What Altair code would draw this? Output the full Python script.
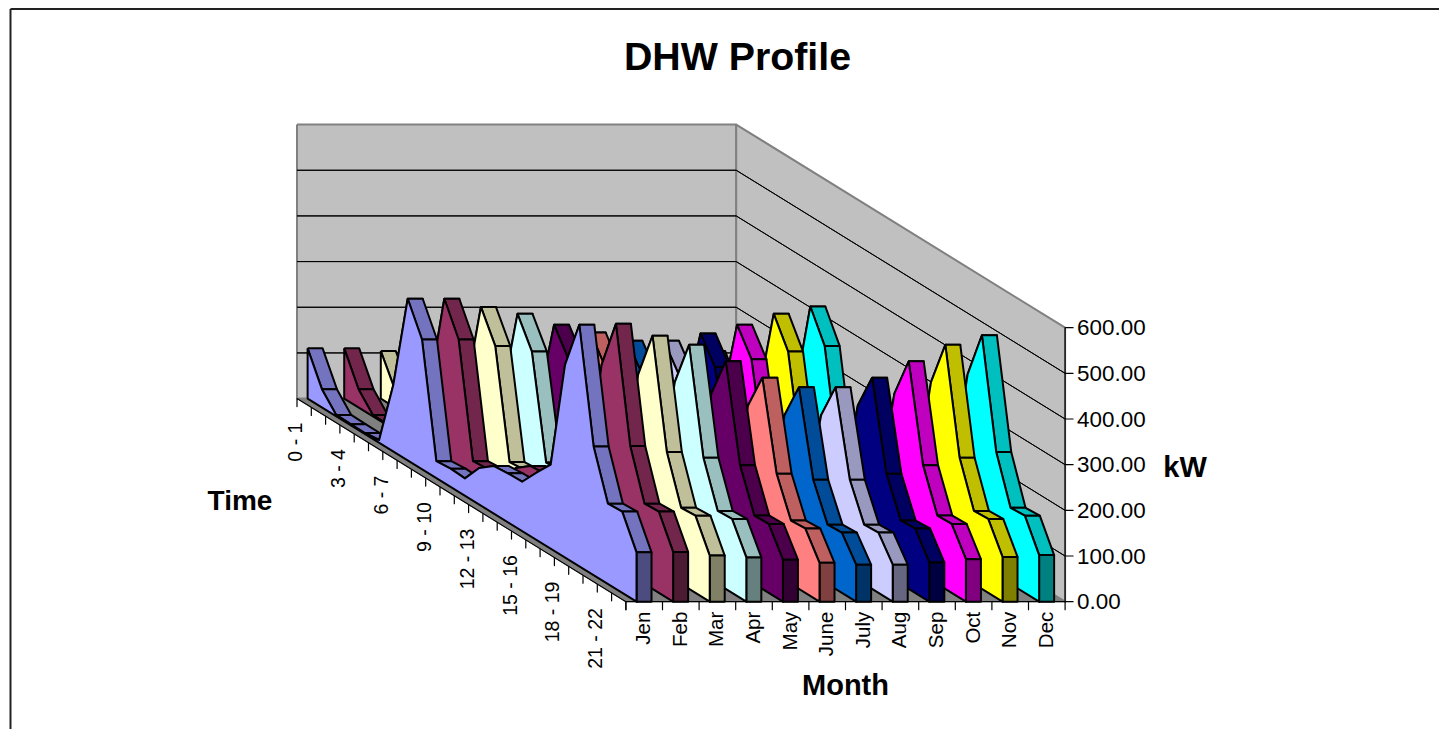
import altair as alt
import pandas as pd

# ---- data (kW, hourly) ----
hours = [f"{h} - {h+1}" for h in range(24)]
shown_hours = [0, 3, 6, 9, 12, 15, 18, 21]
months = ["Jen", "Feb", "Mar", "Apr", "May", "June", "July", "Aug", "Sep", "Oct", "Nov", "Dec"]
jan = [110,40,3,2,2,6,147,354,284,37,40,38,80,104,107,108,147,184,422,529,282,176,178,108]
feb = [110,40,3,2,2,6,147,354,284,37,40,38,80,104,107,108,147,184,422,531,283,176,178,109]
mar = [104,38,3,2,2,6,140,336,270,35,38,36,76,99,102,103,140,175,401,505,270,167,169,101]
apr = [100,36,3,2,2,5,134,321,258,34,36,35,73,95,97,98,134,167,384,485,257,160,162,97]
may = [93,34,3,2,2,5,125,297,241,31,34,32,68,88,91,92,125,156,359,449,241,150,151,92]
jun = [87,32,2,2,2,5,116,280,224,29,32,30,63,82,85,85,116,145,333,413,222,139,141,85]
jul = [81,30,2,1,1,4,109,262,210,27,30,28,59,77,79,80,109,136,312,392,209,130,132,81]
aug = [81,30,2,1,1,4,109,262,210,27,30,28,59,77,79,80,109,136,312,392,209,130,132,81]
sep = [87,32,2,2,2,5,116,278,224,29,32,30,63,82,85,85,116,145,333,413,222,139,141,86]
oct_ = [93,34,3,2,2,5,125,297,241,31,34,32,68,88,91,92,125,156,359,449,241,150,151,93]
nov = [100,36,3,2,2,5,134,321,258,34,36,35,73,95,97,98,134,167,384,485,257,160,162,98]
dec = [104,38,3,2,2,6,140,337,270,35,38,36,76,99,102,103,140,175,401,506,270,167,169,102]
series = [jan, feb, mar, apr, may, jun, jul, aug, sep, oct_, nov, dec]
faces = ["#9999FF", "#993366", "#FFFFCC", "#CCFFFF", "#660066", "#FF8080",
         "#0066CC", "#CCCCFF", "#000080", "#FF00FF", "#FFFF00", "#00FFFF"]
y_ticks = [0, 100, 200, 300, 400, 500, 600]

# ---- oblique 3-D projection of (month depth, hour, kW) ----
OX, OY = 297.0, 398.6
MONTH_DX = 36.6
HOUR_DX, HOUR_DY = 14.3, 8.83
KW_DY = 0.4567
RIB0, RIB1 = 0.29, 0.70
LAST = 23

def proj(s, t, z=0.0):
    return OX + MONTH_DX * s + HOUR_DX * t, OY + HOUR_DY * t - KW_DY * z

def shade(hex_colour, k):
    c = [int(hex_colour[i:i + 2], 16) for i in (1, 3, 5)]
    return "#%02X%02X%02X" % tuple(round(v * k) for v in c)

rows = []
def poly(points, fill, stroke="#000000", sw=2.0):
    pid = rows[-1]["poly"] + 1 if rows else 0
    for i, (x, y) in enumerate(list(points) + [points[0]]):
        rows.append(dict(poly=pid, seq=i, x=x, y=y, fill=fill, stroke=stroke, sw=sw))

WALL, FLOOR, EDGE = "#C0C0C0", "#808080", "#808080"
NM = len(months)
# walls and floor
poly([proj(0, 0, 600), proj(NM, 0, 600), proj(NM, 0), proj(0, 0)], WALL, EDGE, 2)
poly([proj(NM, 0, 600), proj(NM, LAST, 600), proj(NM, LAST), proj(NM, 0)], WALL, EDGE, 2)
poly([proj(0, 0), proj(NM, 0), proj(NM, LAST), proj(0, LAST)], FLOOR, EDGE, 1)
# gridlines
for v in y_ticks[1:-1]:
    poly([proj(0, 0, v), proj(NM, 0, v), proj(NM, LAST, v), proj(NM, 0, v)], "transparent", "#000000", 1)
# ribbons, farthest first
for m in range(NM - 1, -1, -1):
    vals, col = series[m], faces[m]
    a, b = m + RIB0, m + RIB1
    for t in range(LAST):
        poly([proj(a, t, vals[t]), proj(b, t, vals[t]),
              proj(b, t + 1, vals[t + 1]), proj(a, t + 1, vals[t + 1])], shade(col, 0.75))
    poly([proj(a, LAST, vals[LAST]), proj(b, LAST, vals[LAST]), proj(b, LAST), proj(a, LAST)], shade(col, 0.5))
    poly([proj(a, t, vals[t]) for t in range(LAST + 1)] + [proj(a, LAST), proj(a, 0)], col)
# axes
def seg(p, q, sw=1.2, stroke="#000000"):
    poly([p, q], "transparent", stroke, sw)
seg(proj(0, 0), proj(0, LAST))
seg(proj(0, LAST), proj(NM, LAST))
seg(proj(NM, LAST), proj(NM, LAST, 600))
for t in range(LAST + 1):
    x, y = proj(0, t)
    seg((x, y), (x, y + 8))
for s in range(NM + 1):
    x, y = proj(s, LAST)
    seg((x, y), (x, y + 8))
for v in y_ticks:
    x, y = proj(NM, LAST, v)
    seg((x, y), (x + 8, y))
# outer frame of the chart area (left and top sides only are in view)
seg((10.5, 9), (1439, 9), 2, "#222222")
seg((10.5, 9), (10.5, 729), 2, "#222222")

polys = pd.DataFrame(rows)

X = alt.X("x:Q", scale=alt.Scale(domain=[8, 1439], range=[0, 1431], nice=False, zero=False), axis=None)
Y = alt.Y("y:Q", scale=alt.Scale(domain=[8, 729], range=[0, 721], nice=False, zero=False), axis=None)

shapes = alt.Chart(polys).mark_line(strokeJoin="round").encode(
    x=X, y=Y, detail="poly:N", order="seq:Q",
    fill=alt.Fill("fill:N", scale=None),
    stroke=alt.Stroke("stroke:N", scale=None),
    strokeWidth=alt.StrokeWidth("sw:Q", scale=None),
)

FONT = "Liberation Sans"
hour_labels = pd.DataFrame([
    dict(label=hours[t], x=proj(0, t)[0] - 1, y=proj(0, t)[1] + 24) for t in shown_hours])
month_labels = pd.DataFrame([
    dict(label=months[m], x=proj(m + 0.5, LAST)[0], y=proj(0, LAST)[1] + 10) for m in range(NM)])
kw_labels = pd.DataFrame([
    dict(label=f"{v:.2f}", x=proj(NM, LAST)[0] + 12, y=proj(NM, LAST, v)[1] + 0.5) for v in y_ticks])
titles = pd.DataFrame([
    dict(label="DHW Profile", x=737.5, y=58, size=39.3),
    dict(label="Time", x=240, y=502, size=28),
    dict(label="Month", x=845.5, y=686, size=29),
    dict(label="kW", x=1185, y=468, size=29),
])

hour_text = alt.Chart(hour_labels).mark_text(angle=270, align="right", baseline="middle", font=FONT, fontSize=19.5, color="#000000").encode(x=X, y=Y, text="label:N")
month_text = alt.Chart(month_labels).mark_text(angle=270, align="right", baseline="middle", font=FONT, fontSize=20.5, color="#000000").encode(x=X, y=Y, text="label:N")
kw_text = alt.Chart(kw_labels).mark_text(align="left", baseline="middle", font=FONT, fontSize=22.4, color="#000000").encode(x=X, y=Y, text="label:N")
title_text = alt.Chart(titles).mark_text(align="center", baseline="middle", font=FONT, fontWeight="bold", color="#000000").encode(
    x=X, y=Y, text="label:N", size=alt.Size("size:Q", scale=None))

chart = alt.layer(shapes, hour_text, month_text, kw_text, title_text).properties(
    width=1431, height=721, padding=0, autosize=alt.AutoSizeParams(type="none"),
    background="#FFFFFF",
).configure_view(stroke=None)

chart.save("out.html", embed_options={"renderer": "svg", "actions": False})
